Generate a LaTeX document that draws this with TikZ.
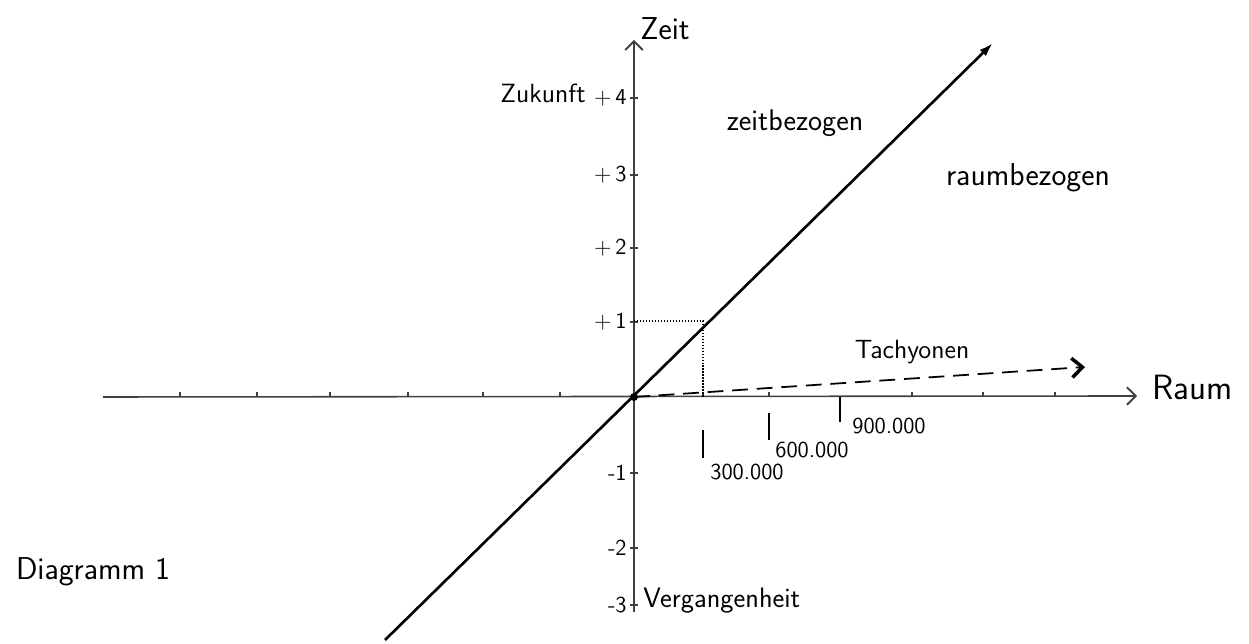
\documentclass[tikz,border=0pt]{standalone}
\usepackage{tikz}
\usetikzlibrary{arrows.meta}

\begin{document}
\begin{tikzpicture}[x=0.02cm, y=-0.02cm,
  hand/.style={font=\sffamily\fontsize{#1}{#1}\selectfont, inner sep=0pt},
  axis/.style={line width=0.9pt, draw=black!75, -{Straight Barb[length=5pt, width=10pt, line width=1.1pt]}},
  light/.style={line width=1.5pt, -{Latex[length=8pt, width=5pt]}},
  tick/.style={line width=0.6pt, draw=black!75},
]
\useasboundingbox (0,0) rectangle (1249,644);
% Axes
\coordinate (o) at (634,397);
\coordinate (xl) at (103,397);
\coordinate (xr) at (1137,396);
\coordinate (yb) at (634,612);
\coordinate (yt) at (634,40);
\draw[axis] (xl) -- (xr);
\draw[axis] (yb) -- (yt);
\node[hand=18, anchor=south west] (zeit) at (640,40) {Zeit};
\node[hand=20, anchor=west] (raum) at (1152,387) {Raum};
% Time scale
\foreach \y/\lab in {98/+\,4, 175/+\,3, 248/+\,2, 322/+\,1, 473/-1, 548/-2, 605/-3} {
  \draw[tick] (630,\y) -- (638,\y);
  \node[hand=13, anchor=east] at (627,\y) {\lab};
}
\node[hand=15, anchor=east] (zukunft) at (586,93) {Zukunft};
\node[hand=16, anchor=west] (verg) at (643,601) {Vergangenheit};
% Space scale
\foreach \x in {180,257,330,408,483,560,703,769,912,983,1055}
  \draw[tick] (\x,397) -- (\x,392);
\draw[line width=1.1pt] (703,430) -- (703,458);
\draw[line width=1.1pt] (769,413) -- (769,440);
\draw[line width=1.1pt] (840,397) -- (840,422);
\node[hand=13] (s300) at (747,472) {300.000};
\node[hand=13] (s600) at (812,450) {600.000};
\node[hand=13] (s900) at (889,426) {900.000};
% Light line
\coordinate (ll) at (385,640);
\coordinate (lr) at (993,43);
\draw[light] (ll) -- (lr);
\fill (o) circle (4);
\draw[densely dotted, line width=0.7pt] (634,321) -- (703,321) -- (703,397);
% Regions
\node[hand=17] (zeitbez) at (795,123) {zeitbezogen};
\node[hand=18] (raumbez) at (1028,178) {raumbezogen};
% Tachyons
\coordinate (tend) at (1085,367);
\draw[line width=1pt, dash pattern=on 9pt off 5pt,
  -{Straight Barb[length=6pt, width=11pt, line width=2pt]}] (o) -- (tend);
\node[hand=15] (tach) at (912,352) {Tachyonen};
\node[hand=18] (diag) at (93,572) {Diagramm 1};
\end{tikzpicture}
\end{document}
